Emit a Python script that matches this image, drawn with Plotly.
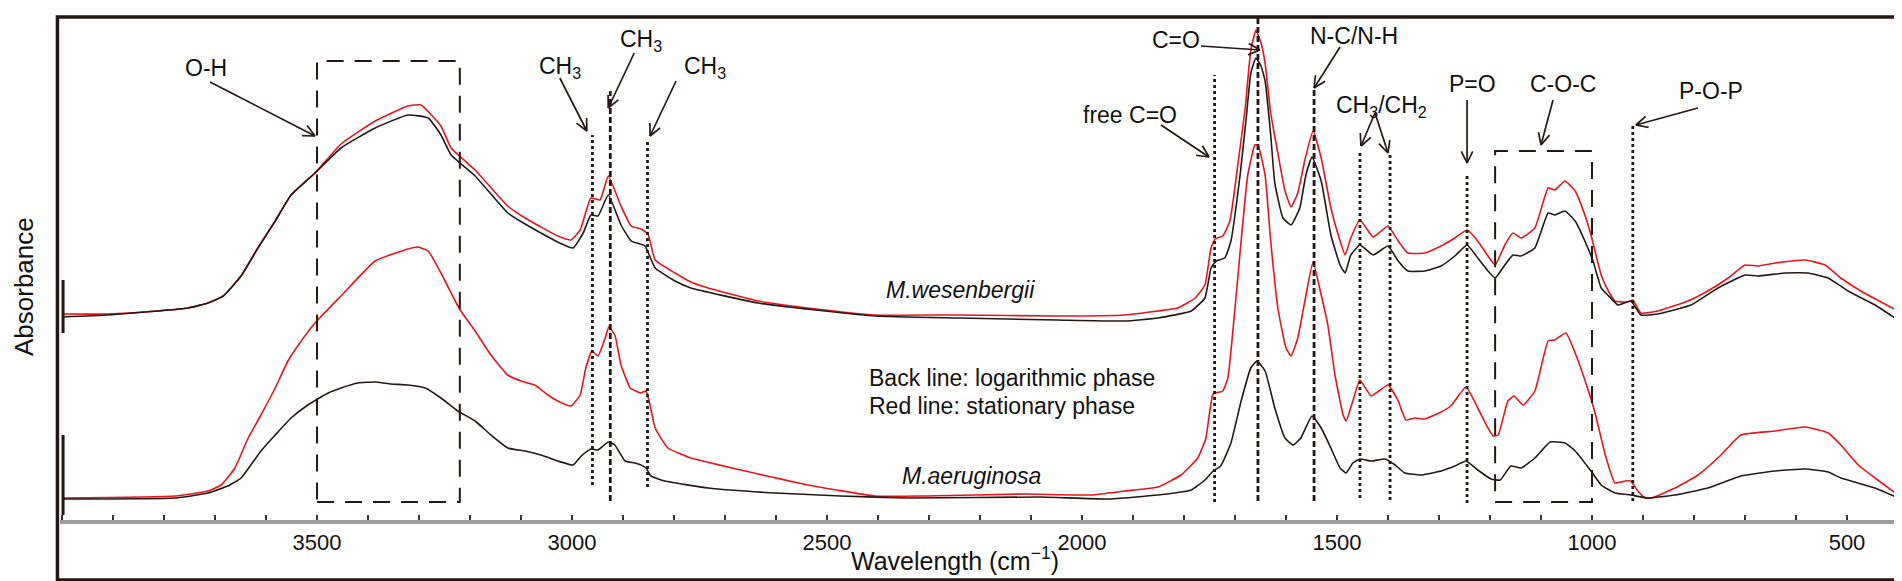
import math
import plotly.graph_objects as go

FONT = "Liberation Sans, Arial, Helvetica, sans-serif"
INK = "#231815"
RED = "#e8141b"

# ---------------- spectra (wavenumber cm-1, absorbance a.u.) ----------------
wes_stat_wn = [4000, 3910, 3812, 3753, 3714, 3684, 3649, 3616, 3582, 3551, 3504, 3453, 3386, 3322, 3296,
               3257, 3237, 3190, 3126, 3092, 3061, 3028, 3002, 2984, 2963, 2945, 2929, 2904, 2884, 2865,
               2851, 2837, 2798, 2767, 2733, 2635, 2504, 2406, 2243, 2047, 1916, 1851, 1812, 1778, 1759,
               1747, 1739, 1724, 1710, 1694, 1680, 1669, 1659, 1649, 1641, 1630, 1616, 1602, 1590, 1577,
               1563, 1547, 1531, 1512, 1494, 1484, 1473, 1455, 1429, 1400, 1380, 1361, 1328, 1296, 1269,
               1245, 1224, 1204, 1190, 1171, 1155, 1139, 1112, 1086, 1073, 1053, 1033, 1014, 1002, 982,
               969, 955, 930, 920, 904, 871, 812, 773, 733, 700, 675, 641, 582, 543, 512, 473, 400]
wes_stat_ab = [206, 206, 209, 212, 217, 224, 244, 272, 299, 325, 347, 376, 399, 414, 415,
               394, 372, 350, 314, 302, 293, 284, 280, 290, 322, 320, 344, 314, 294, 291,
               286, 260, 247, 238, 232, 219, 210, 205, 205, 204, 205, 209, 212, 222, 235,
               272, 281, 284, 299, 357, 412, 470, 490, 477, 457, 407, 367, 329, 313, 327,
               360, 389, 362, 312, 279, 265, 282, 300, 283, 294, 279, 267, 267, 274, 282,
               290, 279, 264, 255, 275, 287, 282, 292, 332, 330, 339, 329, 305, 285, 245,
               230, 219, 218, 220, 207, 209, 219, 229, 242, 255, 254, 257, 260, 255, 242, 229, 209]

wes_log_wn = [4000, 3910, 3812, 3753, 3714, 3684, 3649, 3616, 3582, 3551, 3504, 3453, 3386, 3322, 3282,
              3257, 3237, 3190, 3126, 3092, 3061, 3028, 2998, 2978, 2963, 2949, 2929, 2904, 2884, 2857,
              2837, 2798, 2767, 2635, 2504, 2406, 2243, 2047, 1916, 1851, 1786, 1759, 1747, 1737, 1720,
              1708, 1690, 1678, 1669, 1659, 1649, 1641, 1630, 1622, 1606, 1590, 1573, 1561, 1549, 1531,
              1512, 1494, 1484, 1473, 1455, 1429, 1400, 1380, 1361, 1328, 1296, 1269, 1245, 1224, 1204,
              1190, 1171, 1155, 1139, 1112, 1086, 1073, 1053, 1033, 1014, 998, 982, 969, 949, 924,
              904, 871, 806, 753, 700, 675, 622, 577, 537, 498, 445, 400]
wes_log_ab = [203, 205, 209, 212, 217, 224, 244, 272, 299, 325, 347, 372, 392, 405, 402,
              385, 365, 344, 307, 296, 287, 278, 272, 287, 305, 304, 325, 295, 279, 274,
              252, 239, 232, 217, 209, 204, 202, 200, 199, 202, 209, 222, 252, 259, 262,
              279, 345, 402, 447, 462, 454, 439, 385, 337, 302, 295, 312, 345, 363, 339,
              285, 255, 247, 265, 275, 265, 274, 259, 249, 249, 254, 264, 275, 262, 249,
              242, 255, 265, 264, 272, 307, 305, 309, 299, 279, 259, 232, 225, 215, 219,
              205, 206, 215, 232, 245, 244, 247, 247, 242, 229, 215, 200]

aer_stat_wn = [4000, 3778, 3714, 3688, 3661, 3635, 3610, 3582, 3557, 3531, 3504, 3453, 3386, 3322, 3302,
               3282, 3257, 3229, 3218, 3190, 3159, 3126, 3100, 3073, 3047, 3028, 3002, 2984, 2973, 2961,
               2949, 2935, 2928, 2916, 2904, 2886, 2875, 2865, 2855, 2847, 2837, 2812, 2767, 2669, 2537,
               2406, 2308, 2112, 1982, 1916, 1851, 1806, 1773, 1757, 1743, 1724, 1714, 1700, 1688, 1675,
               1661, 1655, 1641, 1630, 1616, 1600, 1590, 1577, 1563, 1547, 1531, 1518, 1504, 1488, 1482,
               1469, 1455, 1433, 1400, 1380, 1365, 1347, 1328, 1296, 1277, 1247, 1224, 1204, 1194, 1184,
               1165, 1153, 1135, 1112, 1086, 1073, 1051, 1033, 1014, 994, 974, 955, 935, 924, 910,
               896, 884, 837, 792, 747, 708, 641, 582, 537, 512, 478, 445, 400]
aer_stat_ab = [22, 24, 29, 35, 52, 82, 105, 132, 159, 179, 197, 224, 259, 271, 273,
               269, 247, 219, 209, 189, 165, 145, 139, 135, 125, 119, 114, 125, 152, 169,
               164, 182, 193, 185, 155, 132, 129, 127, 129, 115, 92, 72, 62, 50, 35,
               24, 24, 26, 25, 29, 33, 45, 62, 82, 126, 129, 142, 212, 279, 345,
               375, 375, 345, 279, 212, 172, 164, 182, 219, 258, 225, 195, 145, 105, 99,
               119, 140, 124, 135, 119, 100, 102, 101, 108, 114, 133, 112, 92, 84, 85,
               119, 124, 115, 129, 179, 180, 187, 167, 140, 107, 65, 37, 39, 39, 29,
               22, 22, 32, 45, 65, 85, 89, 93, 87, 75, 55, 42, 25]

aer_log_wn = [4000, 3778, 3714, 3675, 3649, 3610, 3582, 3551, 3518, 3478, 3453, 3420, 3386, 3355, 3322,
              3288, 3257, 3224, 3190, 3159, 3126, 3092, 3061, 3028, 2998, 2982, 2963, 2949, 2929, 2916,
              2896, 2877, 2865, 2855, 2845, 2818, 2733, 2602, 2473, 2341, 2080, 1949, 1851, 1786, 1759,
              1743, 1728, 1708, 1688, 1669, 1657, 1641, 1622, 1602, 1586, 1571, 1549, 1531, 1512, 1494,
              1482, 1469, 1455, 1433, 1406, 1386, 1367, 1335, 1296, 1269, 1247, 1224, 1198, 1180, 1159,
              1139, 1112, 1082, 1053, 1033, 1002, 982, 955, 924, 890, 837, 773, 708, 641, 582,
              537, 512, 445, 400]
aer_log_ab = [21, 22, 27, 34, 42, 69, 85, 102, 115, 127, 132, 137, 138, 136, 135,
              132, 122, 109, 99, 85, 72, 69, 65, 59, 55, 64, 71, 70, 78, 75,
              59, 57, 55, 52, 44, 39, 32, 27, 24, 22, 23, 21, 25, 30, 40,
              49, 54, 77, 119, 152, 159, 149, 112, 82, 75, 82, 104, 92, 72, 52,
              47, 57, 61, 59, 61, 55, 47, 45, 49, 54, 59, 50, 41, 40, 54,
              52, 62, 78, 77, 69, 49, 35, 27, 25, 22, 25, 32, 44, 49, 51,
              48, 42, 32, 22]

# ---------------- band assignments / axis ticks ----------------
band_wn = [2960, 2925, 2852, 1740, 1655, 1545, 1455, 1396, 1245, 920]
oh_box_wn = [3500, 3220]
coc_box_wn = [1190, 1000]
major_ticks = [3500, 3000, 2500, 2000, 1500, 1000, 500]

# ---------------- geometry helpers ----------------
X_RANGE = [4004, 400]
Y_RANGE = [0, 502]
W, H = 1902, 581
ML, MR, MT, MB = 52, 12, 10, 69
WN_PER_PX = (X_RANGE[0] - X_RANGE[1]) / (W - ML - MR)   # x axis is reversed
Y_PER_PX = (Y_RANGE[1] - Y_RANGE[0]) / (H - MT - MB)

fig = go.Figure()
for wn, ab, col in [(wes_stat_wn, wes_stat_ab, RED), (wes_log_wn, wes_log_ab, INK),
                    (aer_stat_wn, aer_stat_ab, RED), (aer_log_wn, aer_log_ab, INK)]:
    fig.add_trace(go.Scatter(x=wn, y=ab, mode="lines",
                             line=dict(color=col, width=1.6, shape="spline", smoothing=0.4),
                             hoverinfo="skip", showlegend=False))

shapes = []
# vertical band lines: (top, bottom, dash)
line_ext = [(385, 35, "3px,3px"), (429, 19, "6px,3px"), (380, 33, "3px,3px"),
            (445, 18, "3px,3px"), (502, 19, "6px,3px"), (432, 19, "6px,3px"),
            (370, 22, "3px,3px"), (367, 20, "3px,3px"), (347, 17, "3px,3px"),
            (395, 19, "3px,3px")]
for wn, (top, bot, dash) in zip(band_wn, line_ext):
    shapes.append(dict(type="line", xref="x", yref="y", x0=wn, x1=wn, y0=bot, y1=top,
                       line=dict(color=INK, width=2.8, dash=dash)))
# dashed boxes
shapes.append(dict(type="rect", xref="x", yref="y", x0=oh_box_wn[0], x1=oh_box_wn[1], y0=18, y1=459,
                   line=dict(color=INK, width=2, dash="17px,11px")))
shapes.append(dict(type="rect", xref="x", yref="y", x0=coc_box_wn[0], x1=coc_box_wn[1], y0=18, y1=369,
                   line=dict(color=INK, width=2, dash="17px,11px")))
# left-edge marks
shapes.append(dict(type="line", xref="x", yref="y", x0=3998, x1=3998, y0=187, y1=240,
                   line=dict(color=INK, width=3)))
shapes.append(dict(type="line", xref="x", yref="y", x0=3998, x1=3998, y0=5, y1=85,
                   line=dict(color=INK, width=3)))
# outer frame
shapes.append(dict(type="rect", xref="paper", yref="paper", x0=-0.0014, x1=1.0011, y0=-0.1195, y1=1.002,
                   line=dict(color=INK, width=3.5)))


def arrow(x, y, dx, dy, head=13, spread=26):
    """Arrow whose tip is at data (x, y); tail sits dx, dy screen pixels away."""
    tx = x - dx * WN_PER_PX
    ty = y - dy * Y_PER_PX
    shapes.append(dict(type="line", xref="x", yref="y", x0=tx, y0=ty, x1=x, y1=y,
                       line=dict(color=INK, width=1.7)))
    L = math.hypot(dx, dy)
    ux, uy = dx / L, dy / L  # screen direction tip -> tail
    for s in (-1, 1):
        a = math.radians(spread * s)
        px = (ux * math.cos(a) - uy * math.sin(a)) * head
        py = (ux * math.sin(a) + uy * math.cos(a)) * head
        shapes.append(dict(type="line", xref="x", yref="y", x0=x, y0=y,
                           x1=x - px * WN_PER_PX, y1=y - py * Y_PER_PX,
                           line=dict(color=INK, width=1.7)))


arrow(3504, 384, -105, -54)   # O-H
arrow(2971, 389, -27, -53)    # CH3 left
arrow(2929, 412, 26, -55)     # CH3 middle
arrow(2847, 384, 26, -55)     # CH3 right
arrow(1651, 470, -59, -4)     # C=O
arrow(1751, 363, -48, -32)    # free C=O
arrow(1545, 432, 26, -41)     # N-C/N-H
arrow(1453, 374, 14, -33)     # CH3/CH2
arrow(1400, 367, -13, -40)    # CH3/CH2
arrow(1245, 357, 0, -63)      # P=O
arrow(1100, 375, 12, -45)     # C-O-C
arrow(914, 395, 62, -17)      # P-O-P

ann = []
tf = dict(family=FONT, size=23, color="#111")


def label(x, y, text, **kw):
    d = dict(x=x, y=y, xref="x", yref="y", text=text, showarrow=False, font=tf,
             xanchor="center", yanchor="middle")
    d.update(kw)
    ann.append(d)


label(3718, 452, "O-H")
label(3024, 453, "CH<sub>3</sub>")
label(2865, 480, "CH<sub>3</sub>")
label(2739, 453, "CH<sub>3</sub>")
label(1816, 480, "C=O")
label(1906, 405, "free C=O")
label(1467, 484, "N-C/N-H")
label(1412, 414, "CH<sub>3</sub>/CH<sub>2</sub>")
label(1235, 436, "P=O")
label(1057, 436, "C-O-C")
label(767, 429, "P-O-P")
label(2239, 230, "<i>M.wesenbergii</i>")
label(2216, 44, "<i>M.aeruginosa</i>")
label(2422, 142, "Back line: logarithmic phase", xanchor="left")
label(2422, 114, "Red line: stationary phase", xanchor="left")

ann.append(dict(x=-0.0196, y=0.466, xref="paper", yref="paper", text="Absorbance", textangle=-90,
                showarrow=False, font=dict(family=FONT, size=26, color="#111"),
                xanchor="center", yanchor="middle"))
ann.append(dict(x=0.487, y=-0.0777, xref="paper", yref="paper", text="Wavelength (cm<sup>\u22121</sup>)",
                showarrow=False, font=dict(family=FONT, size=25, color="#111"),
                xanchor="center", yanchor="middle"))

fig.update_layout(
    width=W, height=H,
    margin=dict(l=ML, r=MR, t=MT, b=MB),
    paper_bgcolor="white", plot_bgcolor="white",
    shapes=shapes, annotations=ann,
    xaxis=dict(range=X_RANGE, showgrid=False, zeroline=False,
               showline=True, linecolor="#9d9d9d", linewidth=4,
               tickmode="array", tickvals=major_ticks,
               ticks="inside", ticklen=5, tickwidth=1.5, tickcolor="#333",
               tickfont=dict(family=FONT, size=22, color="#111"),
               minor=dict(tickmode="linear", tick0=0, dtick=100, ticks="inside",
                          ticklen=5, tickwidth=1.5, tickcolor="#333", showgrid=False)),
    yaxis=dict(range=Y_RANGE, visible=False, showgrid=False, zeroline=False),
)

fig.write_html("out.html")
